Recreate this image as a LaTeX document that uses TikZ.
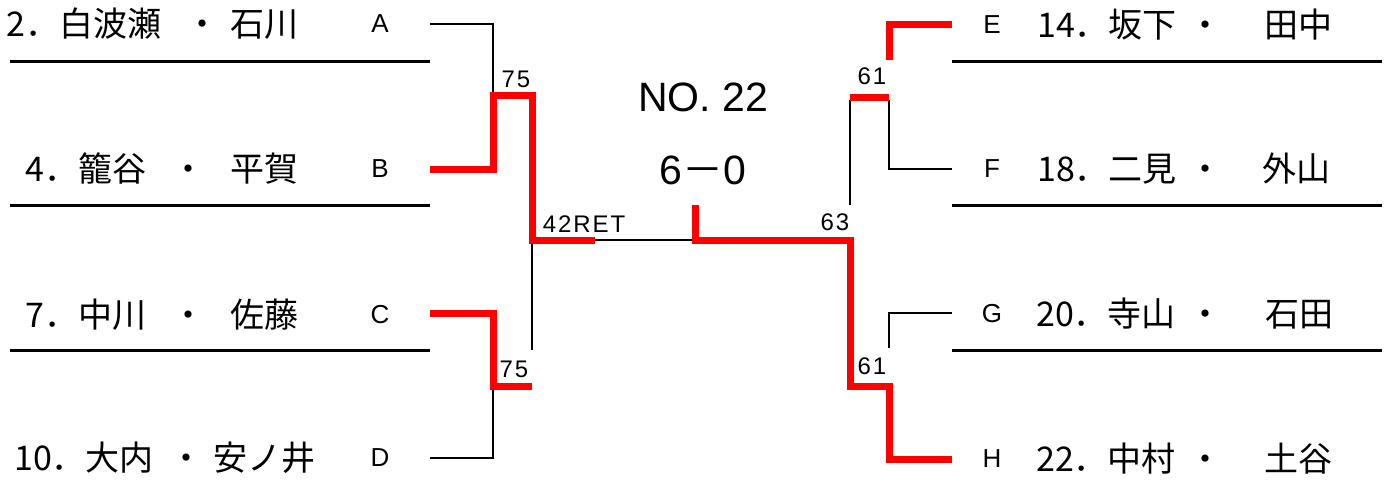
\documentclass[tikz,border=0pt]{standalone}
\usepackage{fontspec}
\setmainfont{Liberation Sans}
\newfontfamily\jpfont{Noto Sans CJK JP}
\usetikzlibrary{calc,positioning}

\tikzset{
  player/.style={anchor=west,inner sep=0pt,text height=29pt,text depth=4pt,
    font=\jpfont\fontsize{34}{36}\selectfont},
  dot/.style={player,anchor=center},
  tag/.style={inner sep=0pt,font=\fontsize{26}{28}\selectfont},
  score/.style={inner sep=0pt,font=\fontsize{24}{26}\selectfont\addfontfeature{LetterSpace=8}},
  title/.style={inner sep=0pt,font=\fontsize{41}{44}\selectfont},
  win/.style={draw=red,line width=7pt,line join=miter},
  lose/.style={draw=black,line width=2pt},
  sepline/.style={draw=black,line width=3pt}
}

\begin{document}
\begin{tikzpicture}[x=1pt,y=-1pt]
	\useasboundingbox (0,0) rectangle (1392,493);

	% bracket corners, left half
	\coordinate (A) at (430,24);
	\coordinate (B) at (430,169);
	\coordinate (C) at (430,313);
	\coordinate (D) at (430,458);
	\coordinate (AB) at (493,95);
	\coordinate (CD) at (493,386);
	\coordinate (ABCD) at (532,240);
	\coordinate (L) at (595,240);
	% bracket corners, right half
	\coordinate (E) at (952,24);
	\coordinate (F) at (952,169);
	\coordinate (G) at (952,313);
	\coordinate (H) at (952,459);
	\coordinate (EF) at (889,97);
	\coordinate (GH) at (889,386);
	\coordinate (EFGH) at (850,240);
	\coordinate (R) at (695,240);
	\coordinate (R0) at (695,205);

	% separators
	\foreach \y in {61,205,350} {
		\draw[sepline] (10,\y) -- (430,\y);
		\draw[sepline] (952,\y) -- (1382,\y);
	}

	% left players
	\node[player] (p2) at (6,24) {2．白波瀬};
	\node[dot] (d2) at (202,24) {・};
	\node[player] (q2) at (230,24) {石川};
	\node[player] (p4) at (25,169) {4．籠谷};
	\node[dot] (d4) at (188,169) {・};
	\node[player] (q4) at (230,169) {平賀};
	\node[player] (p7) at (25,315) {7．中川};
	\node[dot] (d7) at (188,315) {・};
	\node[player] (q7) at (230,315) {佐藤};
	\node[player] (p10) at (14,458) {10．大内};
	\node[dot] (d10) at (186,458) {・};
	\node[player] (q10) at (213,458) {安ノ井};
	\node[tag] (tA) at (380,24) {A};
	\node[tag] (tB) at (380,169) {B};
	\node[tag] (tC) at (380,315) {C};
	\node[tag] (tD) at (380,458) {D};

	% right players
	\node[player] (p14) at (1037,25) {14．坂下};
	\node[dot] (d14) at (1205,25) {・};
	\node[player] (q14) at (1264,25) {田中};
	\node[player] (p18) at (1037,169) {18．二見};
	\node[dot] (d18) at (1205,169) {・};
	\node[player] (q18) at (1262,169) {外山};
	\node[player] (p20) at (1036,314) {20．寺山};
	\node[dot] (d20) at (1205,314) {・};
	\node[player] (q20) at (1265,314) {石田};
	\node[player] (p22) at (1036,459) {22．中村};
	\node[dot] (d22) at (1205,459) {・};
	\node[player] (q22) at (1264,459) {土谷};
	\node[tag] (tE) at (992,25) {E};
	\node[tag] (tF) at (992,169) {F};
	\node[tag] (tG) at (992,314) {G};
	\node[tag] (tH) at (992,459) {H};

	% match
	\node[title] (no) at (703,97) {NO. 22};
	\node[title] (res) at (703,170) {6\jpfont －\rmfamily 0};

	% scores
	\node[score] (s1) at (516,79) {75};
	\node[score] (s2) at (514,369) {75};
	\node[score] (s3) at (584,224) {42RET};
	\node[score] (s4) at (872,76) {61};
	\node[score] (s5) at (835,222) {63};
	\node[score] (s6) at (872,366) {61};

	% lost lines
	\draw[lose] (A) -| ($(AB)+(0,-2)$);
	\draw[lose] (D) -| ($(CD)+(0,4)$);
	\draw[lose] ($(ABCD)+(0,4)$) -- (532,350);
	\draw[lose] (L) -- (R);
	\draw[lose] (F) -| ($(EF)+(0,3)$);
	\draw[lose] (G) -| (889,348);
	\draw[lose] (EFGH |- R0) -- ($(EFGH |- EF)+(0,3)$);

	% won lines
	\draw[win] (B) -| (AB) -| (ABCD) -- (L);
	\draw[win] (C) -| (CD) -- (CD -| ABCD);
	\draw[win] (R0) -- (R) -- (EFGH) |- (GH) |- (H);
	\draw[win] (EFGH |- EF) -- (EF);
	\draw[win] (889,60) |- (E);

\end{tikzpicture}
\end{document}
